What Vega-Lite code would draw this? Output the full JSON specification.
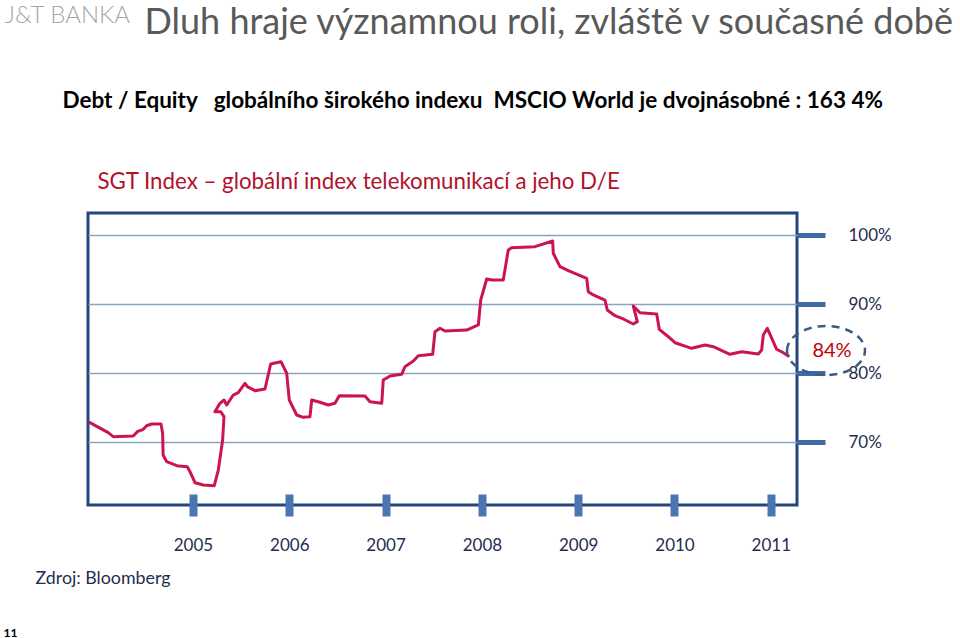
{
  "$schema": "https://vega.github.io/schema/vega-lite/v6.json",
  "width": 709,
  "height": 292,
  "autosize": {"type": "none"},
  "padding": {"left": 88, "top": 213, "right": 163, "bottom": 133},
  "background": "white",
  "config": {
    "font": "Lato",
    "view": {"stroke": "#23467e", "strokeWidth": 3},
    "axis": {"labelFont": "Lato", "titleFont": "Lato"}
  },
  "title": {
    "text": "Dluh hraje významnou roli, zvláště v současné době",
    "anchor": "end",
    "frame": "group",
    "dx": 156,
    "dy": 42,
    "fontSize": 36,
    "fontWeight": "normal",
    "color": "#595959",
    "font": "Lato"
  },
  "datasets": {
    "sgt": [
      {"i": 1, "year": 2003.930, "value": 72.80},
      {"i": 2, "year": 2004.120, "value": 71.35},
      {"i": 3, "year": 2004.172, "value": 70.77},
      {"i": 4, "year": 2004.380, "value": 70.87},
      {"i": 5, "year": 2004.422, "value": 71.49},
      {"i": 6, "year": 2004.484, "value": 71.84},
      {"i": 7, "year": 2004.519, "value": 72.36},
      {"i": 8, "year": 2004.571, "value": 72.61},
      {"i": 9, "year": 2004.668, "value": 72.61},
      {"i": 10, "year": 2004.685, "value": 71.26},
      {"i": 11, "year": 2004.690, "value": 68.12},
      {"i": 12, "year": 2004.727, "value": 67.15},
      {"i": 13, "year": 2004.831, "value": 66.57},
      {"i": 14, "year": 2004.941, "value": 66.42},
      {"i": 15, "year": 2004.969, "value": 65.70},
      {"i": 16, "year": 2005.021, "value": 64.10},
      {"i": 17, "year": 2005.107, "value": 63.77},
      {"i": 18, "year": 2005.221, "value": 63.67},
      {"i": 19, "year": 2005.263, "value": 65.94},
      {"i": 20, "year": 2005.308, "value": 70.29},
      {"i": 21, "year": 2005.322, "value": 73.67},
      {"i": 22, "year": 2005.288, "value": 74.39},
      {"i": 23, "year": 2005.228, "value": 74.39},
      {"i": 24, "year": 2005.280, "value": 75.61},
      {"i": 25, "year": 2005.322, "value": 76.09},
      {"i": 26, "year": 2005.350, "value": 75.36},
      {"i": 27, "year": 2005.418, "value": 76.81},
      {"i": 28, "year": 2005.470, "value": 77.15},
      {"i": 29, "year": 2005.540, "value": 78.51},
      {"i": 30, "year": 2005.564, "value": 78.02},
      {"i": 31, "year": 2005.644, "value": 77.44},
      {"i": 32, "year": 2005.748, "value": 77.68},
      {"i": 33, "year": 2005.807, "value": 81.31},
      {"i": 34, "year": 2005.914, "value": 81.64},
      {"i": 35, "year": 2005.973, "value": 79.96},
      {"i": 36, "year": 2006.000, "value": 76.09},
      {"i": 37, "year": 2006.077, "value": 73.91},
      {"i": 38, "year": 2006.145, "value": 73.58},
      {"i": 39, "year": 2006.215, "value": 73.67},
      {"i": 40, "year": 2006.233, "value": 76.09},
      {"i": 41, "year": 2006.319, "value": 75.76},
      {"i": 42, "year": 2006.405, "value": 75.36},
      {"i": 43, "year": 2006.475, "value": 75.61},
      {"i": 44, "year": 2006.519, "value": 76.71},
      {"i": 45, "year": 2006.786, "value": 76.67},
      {"i": 46, "year": 2006.838, "value": 75.84},
      {"i": 47, "year": 2006.960, "value": 75.61},
      {"i": 48, "year": 2006.976, "value": 78.99},
      {"i": 49, "year": 2007.046, "value": 79.57},
      {"i": 50, "year": 2007.167, "value": 79.81},
      {"i": 51, "year": 2007.201, "value": 80.91},
      {"i": 52, "year": 2007.288, "value": 81.74},
      {"i": 53, "year": 2007.340, "value": 82.51},
      {"i": 54, "year": 2007.489, "value": 82.71},
      {"i": 55, "year": 2007.513, "value": 85.99},
      {"i": 56, "year": 2007.565, "value": 86.48},
      {"i": 57, "year": 2007.617, "value": 86.09},
      {"i": 58, "year": 2007.842, "value": 86.23},
      {"i": 59, "year": 2007.963, "value": 86.96},
      {"i": 60, "year": 2007.988, "value": 90.58},
      {"i": 61, "year": 2008.050, "value": 93.62},
      {"i": 62, "year": 2008.102, "value": 93.48},
      {"i": 63, "year": 2008.222, "value": 93.48},
      {"i": 64, "year": 2008.274, "value": 97.83},
      {"i": 65, "year": 2008.309, "value": 98.16},
      {"i": 66, "year": 2008.551, "value": 98.31},
      {"i": 67, "year": 2008.735, "value": 99.13},
      {"i": 68, "year": 2008.741, "value": 97.35},
      {"i": 69, "year": 2008.811, "value": 95.41},
      {"i": 70, "year": 2008.897, "value": 94.83},
      {"i": 71, "year": 2009.088, "value": 93.73},
      {"i": 72, "year": 2009.105, "value": 91.78},
      {"i": 73, "year": 2009.157, "value": 91.31},
      {"i": 74, "year": 2009.278, "value": 90.58},
      {"i": 75, "year": 2009.302, "value": 89.13},
      {"i": 76, "year": 2009.382, "value": 88.31},
      {"i": 77, "year": 2009.468, "value": 87.83},
      {"i": 78, "year": 2009.572, "value": 87.10},
      {"i": 79, "year": 2009.614, "value": 87.44},
      {"i": 80, "year": 2009.572, "value": 89.71},
      {"i": 81, "year": 2009.642, "value": 88.74},
      {"i": 82, "year": 2009.815, "value": 88.55},
      {"i": 83, "year": 2009.842, "value": 86.33},
      {"i": 84, "year": 2009.936, "value": 85.26},
      {"i": 85, "year": 2010.005, "value": 84.39},
      {"i": 86, "year": 2010.179, "value": 83.58},
      {"i": 87, "year": 2010.317, "value": 84.06},
      {"i": 88, "year": 2010.403, "value": 83.81},
      {"i": 89, "year": 2010.576, "value": 82.71},
      {"i": 90, "year": 2010.698, "value": 83.09},
      {"i": 91, "year": 2010.870, "value": 82.76},
      {"i": 92, "year": 2010.905, "value": 83.33},
      {"i": 93, "year": 2010.922, "value": 85.51},
      {"i": 94, "year": 2010.964, "value": 86.48},
      {"i": 95, "year": 2011.061, "value": 83.44},
      {"i": 96, "year": 2011.130, "value": 82.94},
      {"i": 97, "year": 2011.182, "value": 82.47}
    ],
    "note": [
      {"year": 2011.573, "value": 83.26, "label": "84%"}
    ]
  },
  "layer": [
    {
      "data": {"name": "sgt"},
      "mark": {"type": "line", "strokeWidth": 3, "strokeJoin": "round", "strokeCap": "round"},
      "encoding": {
        "order": {"field": "i", "type": "quantitative"},
        "x": {
          "field": "year", "type": "quantitative",
          "scale": {"domain": [2003.910, 2011.272], "nice": false, "zero": false},
          "axis": {
            "orient": "bottom",
            "values": [2005, 2006, 2007, 2008, 2009, 2010, 2011],
            "format": "d",
            "offset": -11,
            "domain": false,
            "grid": false,
            "tickSize": 22,
            "tickWidth": 8,
            "tickColor": "#4a76b0",
            "labelFontSize": 17,
            "labelColor": "#1f2d50",
            "labelPadding": 21,
            "title": "Zdroj: Bloomberg",
            "titleX": -53,
            "titleY": 84,
            "titleAlign": "left",
            "titleBaseline": "middle",
            "titleFontSize": 17.8,
            "titleFontWeight": "normal",
            "titleColor": "#1f2d50"
          }
        },
        "y": {
          "field": "value", "type": "quantitative",
          "scale": {"domain": [60.87, 103.19], "nice": false, "zero": false},
          "axis": {
            "orient": "right",
            "values": [70, 80, 90, 100],
            "labelExpr": "datum.value + '%'",
            "domain": false,
            "grid": true,
            "gridColor": "#8aa2c4",
            "gridWidth": 1.5,
            "tickSize": 28,
            "tickWidth": 5,
            "tickColor": "#3f6aa6",
            "labelFontSize": 17,
            "labelColor": "#1f2d50",
            "labelPadding": 23,
            "title": "11",
            "titleX": -794,
            "titleY": 419,
            "titleAngle": 0,
            "titleAlign": "left",
            "titleBaseline": "middle",
            "titleFontSize": 12,
            "titleFontWeight": "bold",
            "titleColor": "#000000"
          }
        },
        "color": {
          "datum": "SGT",
          "scale": {"range": ["#cc1450"]},
          "legend": {
            "orient": "none",
            "legendX": -83,
            "legendY": -209,
            "padding": 0,
            "title": "J&T BANKA",
            "titleFont": "Lato",
            "titleFontSize": 24,
            "titleFontWeight": 300,
            "titleColor": "#a6a6a6",
            "titleBaseline": "top",
            "titlePadding": 0,
            "symbolOpacity": 0,
            "labelOpacity": 0
          }
        }
      }
    },
    {
      "data": {"name": "note"},
      "mark": {
        "type": "point",
        "shape": "M -1 0 A 1 0.628 0 1 1 1 0 A 1 0.628 0 1 1 -1 0 Z",
        "size": 6084,
        "filled": false,
        "color": "#3b5b85",
        "stroke": "#3b5b85",
        "strokeWidth": 2.5,
        "strokeDash": [8, 6],
        "opacity": 1,
        "clip": false
      },
      "encoding": {
        "x": {
          "field": "year", "type": "quantitative",
          "scale": {"domain": [2003.910, 2011.272], "nice": false, "zero": false},
          "axis": {
            "orient": "top",
            "labels": false,
            "ticks": false,
            "domain": false,
            "grid": false,
            "title": "SGT Index – globální index telekomunikací a jeho D/E",
            "titleX": 9,
            "titleY": -32,
            "titleAlign": "left",
            "titleBaseline": "middle",
            "titleFontSize": 22.3,
            "titleFontWeight": "normal",
            "titleColor": "#b0122b"
          }
        },
        "y": {
          "field": "value", "type": "quantitative",
          "scale": {"domain": [60.87, 103.19], "nice": false, "zero": false},
          "axis": {
            "orient": "left",
            "labels": false,
            "ticks": false,
            "domain": false,
            "grid": false,
            "title": "Debt / Equity\u00a0\u00a0 globálního širokého indexu\u00a0 MSCIO World je dvojnásobné : 163 4%",
            "titleX": -26,
            "titleY": -113,
            "titleAngle": 0,
            "titleAlign": "left",
            "titleBaseline": "middle",
            "titleFontSize": 22.5,
            "titleFontWeight": "bold",
            "titleColor": "#000000"
          }
        }
      }
    },
    {
      "data": {"name": "note"},
      "mark": {"type": "text", "color": "#c00000", "fontSize": 20, "dx": 6, "clip": false, "font": "Lato"},
      "encoding": {
        "x": {"field": "year", "type": "quantitative", "scale": {"domain": [2003.910, 2011.272], "nice": false, "zero": false}, "axis": null},
        "y": {"field": "value", "type": "quantitative", "scale": {"domain": [60.87, 103.19], "nice": false, "zero": false}, "axis": null},
        "text": {"field": "label"}
      }
    }
  ],
  "resolve": {"axis": {"x": "independent", "y": "independent"}}
}
